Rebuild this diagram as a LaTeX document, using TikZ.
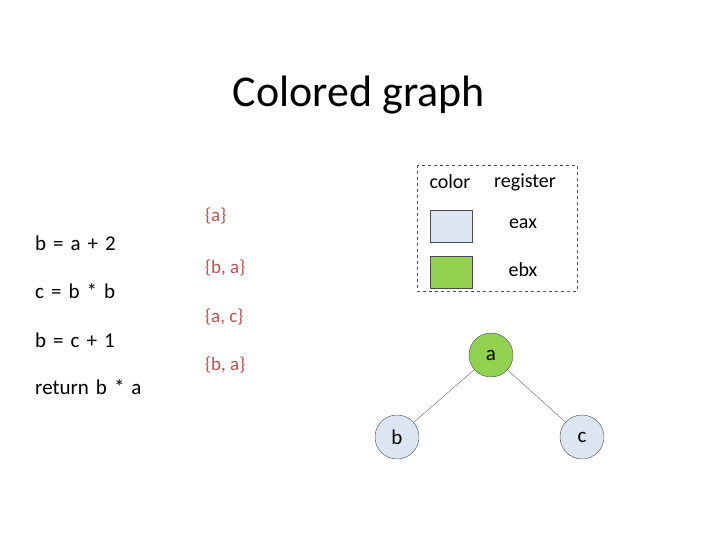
\documentclass[tikz,border=0pt]{standalone}
\usepackage{fontspec}
\setmainfont{Carlito}
\usetikzlibrary{positioning}
\definecolor{paleblue}{HTML}{DCE6F2}
\definecolor{leafgreen}{HTML}{92D050}
\definecolor{setred}{HTML}{C0504D}
\tikzstyle{vertex} = [circle, minimum size=44pt, inner sep=0pt, draw=black!70, font=\fontsize{21}{24}\selectfont]
\tikzstyle{swatch} = [rectangle, minimum width=42pt, minimum height=32pt, draw=black!70, inner sep=0pt]
\tikzstyle{code} = [anchor=west, inner sep=0pt, font=\fontsize{21}{24}\selectfont]
\tikzstyle{live} = [anchor=west, inner sep=0pt, text=setred, font=\fontsize{19}{22}\selectfont]
\tikzstyle{legend} = [font=\fontsize{20}{22}\selectfont]
\tikzstyle{edge} = [draw=black!60, thin]

\begin{document}
\begin{tikzpicture}[x=1pt, y=-1pt]
\useasboundingbox (0,0) rectangle (720,540);

% Title
\node (title) at (359,95) {\fontsize{44}{52}\selectfont Colored graph};

% Code
\node (l1) [code] at (35,243) {b\,\,=\,\,a\,\,+\,\,2};
\node (l2) [code] at (35,291) {c\,\,=\,\,b\,\,*\,\,b};
\node (l3) [code] at (35,340) {b\,\,=\,\,c\,\,+\,\,1};
\node (l4) [code] at (35,387) {return\,\,b\,\,*\,\,a};

% Live sets
\node (s1) [live] at (205,216) {\{a\}};
\node (s2) [live] at (205,268) {\{b, a\}};
\node (s3) [live] at (205,317) {\{a, c\}};
\node (s4) [live] at (205,365) {\{b, a\}};

% Legend
\draw [dashed, black!70] (417,165) rectangle (577,291);
\node (hcol) [legend] at (450,182) {color};
\node (hreg) [legend] at (525,182) {register};
\node (sw1) [swatch, fill=paleblue] at (451,226) {};
\node (sw2) [swatch, fill=leafgreen] at (451,272) {};
\node (r1) [legend] at (523,224) {eax};
\node (r2) [legend] at (523,270) {ebx};

% Graph
\node (a) [vertex, fill=leafgreen] at (491,355) {a};
\node (b) [vertex, fill=paleblue] at (397,437) {b};
\node (c) [vertex, fill=paleblue] at (582,437) {c};
\draw [edge] (a) -- (b);
\draw [edge] (a) -- (c);

\end{tikzpicture}
\end{document}
